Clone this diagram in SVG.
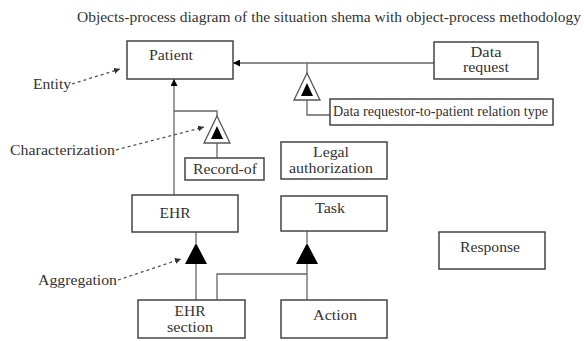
<svg xmlns="http://www.w3.org/2000/svg" width="584" height="341" viewBox="0 0 584 341">
<style>
.box{fill:#fff;stroke:#444;stroke-width:1.5}
.t{font-family:"Liberation Serif","DejaVu Serif","Times New Roman",serif;font-size:14px;fill:#333;text-anchor:middle}
.lbl{font-family:"Liberation Serif","DejaVu Serif","Times New Roman",serif;font-size:14px;fill:#333}
.ln{fill:none;stroke:#666;stroke-width:1.3}
.dash{fill:none;stroke:#555;stroke-width:1.3;stroke-dasharray:3,3}
.tri{fill:#fff;stroke:#555;stroke-width:1.3}
.blk{fill:#000}
</style>
<defs>
<marker id="ah" viewBox="0 0 10 10" refX="10" refY="5" markerWidth="7" markerHeight="7" orient="auto" markerUnits="userSpaceOnUse"><path d="M0,0 L10,5 L0,10 z" fill="#000"/></marker>
<marker id="dh" viewBox="0 0 10 10" refX="10" refY="5" markerWidth="6" markerHeight="6" orient="auto" markerUnits="userSpaceOnUse"><path d="M0,0 L10,5 L0,10 z" fill="#333"/></marker>
</defs>
<text x="77" y="22" class="lbl" font-size="12" textLength="504" lengthAdjust="spacingAndGlyphs">Objects-process diagram of the situation shema with object-process methodology</text>

<g id="connectors">
<path class="ln" d="M434,63 L233,63" marker-end="url(#ah)"/>
<path class="ln" d="M307,63 L307,73"/>
<path class="tri" d="M307,73 L320,100 L294,100 z"/>
<path class="blk" d="M307,83 L313,96 L301,96 z"/>
<path class="ln" d="M307,100 L307,115 L330,115"/>
<path class="ln" d="M174,195 L174,79" marker-end="url(#ah)"/>
<path class="ln" d="M174,111 L217,111 L217,116"/>
<path class="tri" d="M217,116 L230,143 L204,143 z"/>
<path class="blk" d="M217,126 L223,139 L211,139 z"/>
<path class="ln" d="M217,143 L217,158"/>
<path class="ln" d="M196,232 L196,243"/>
<path class="blk" d="M196,243 L207,264 L185,264 z"/>
<path class="ln" d="M196,264 L196,300"/>
<path class="ln" d="M307,231 L307,243"/>
<path class="blk" d="M307,243 L318,264 L296,264 z"/>
<path class="ln" d="M307,264 L307,300"/>
<path class="ln" d="M217,300 L217,274 L307,274"/>
<path class="dash" d="M72,84 L120,69" marker-end="url(#dh)"/>
<path class="dash" d="M116,150 L204,127" marker-end="url(#dh)"/>
<path class="dash" d="M118,280 L181,259" marker-end="url(#dh)"/>
</g>

<g id="patient"><rect class="box" x="127" y="41" width="106" height="38"/><text class="t" x="171" y="60" textLength="44" lengthAdjust="spacingAndGlyphs">Patient</text></g>
<g id="data-request"><rect class="box" x="434" y="42" width="104" height="37"/><text class="t" x="486" y="57" textLength="31" lengthAdjust="spacingAndGlyphs">Data</text><text class="t" x="486" y="72" textLength="46" lengthAdjust="spacingAndGlyphs">request</text></g>
<g id="relation-type"><rect class="box" x="330" y="99" width="223" height="26" stroke-width="1.2"/><text class="lbl" x="333" y="116" font-size="12" textLength="215" lengthAdjust="spacingAndGlyphs">Data requestor-to-patient relation type</text></g>
<g id="record-of"><rect class="box" x="185" y="158" width="79" height="22"/><text class="t" x="225" y="174" textLength="64" lengthAdjust="spacingAndGlyphs">Record-of</text></g>
<g id="legal-authorization"><rect class="box" x="281" y="142" width="106" height="37"/><text class="t" x="331" y="157" textLength="36" lengthAdjust="spacingAndGlyphs">Legal</text><text class="t" x="331" y="173" textLength="84" lengthAdjust="spacingAndGlyphs">authorization</text></g>
<g id="ehr"><rect class="box" x="132" y="195" width="106" height="37"/><text class="t" x="175" y="218" textLength="31" lengthAdjust="spacingAndGlyphs">EHR</text></g>
<g id="task"><rect class="box" x="281" y="196" width="106" height="35"/><text class="t" x="330" y="213" textLength="30" lengthAdjust="spacingAndGlyphs">Task</text></g>
<g id="response"><rect class="box" x="439" y="232" width="106" height="37"/><text class="t" x="490" y="252" textLength="60" lengthAdjust="spacingAndGlyphs">Response</text></g>
<g id="ehr-section"><rect class="box" x="138" y="300" width="107" height="38"/><text class="t" x="190" y="316" textLength="31" lengthAdjust="spacingAndGlyphs">EHR</text><text class="t" x="190" y="332" textLength="46" lengthAdjust="spacingAndGlyphs">section</text></g>
<g id="action"><rect class="box" x="281" y="300" width="106" height="38"/><text class="t" x="335" y="320" textLength="44" lengthAdjust="spacingAndGlyphs">Action</text></g>

<text class="lbl" x="33" y="89" textLength="38" lengthAdjust="spacingAndGlyphs">Entity</text>
<text class="lbl" x="10" y="155" textLength="105" lengthAdjust="spacingAndGlyphs">Characterization</text>
<text class="lbl" x="38" y="285" textLength="79" lengthAdjust="spacingAndGlyphs">Aggregation</text>
</svg>
